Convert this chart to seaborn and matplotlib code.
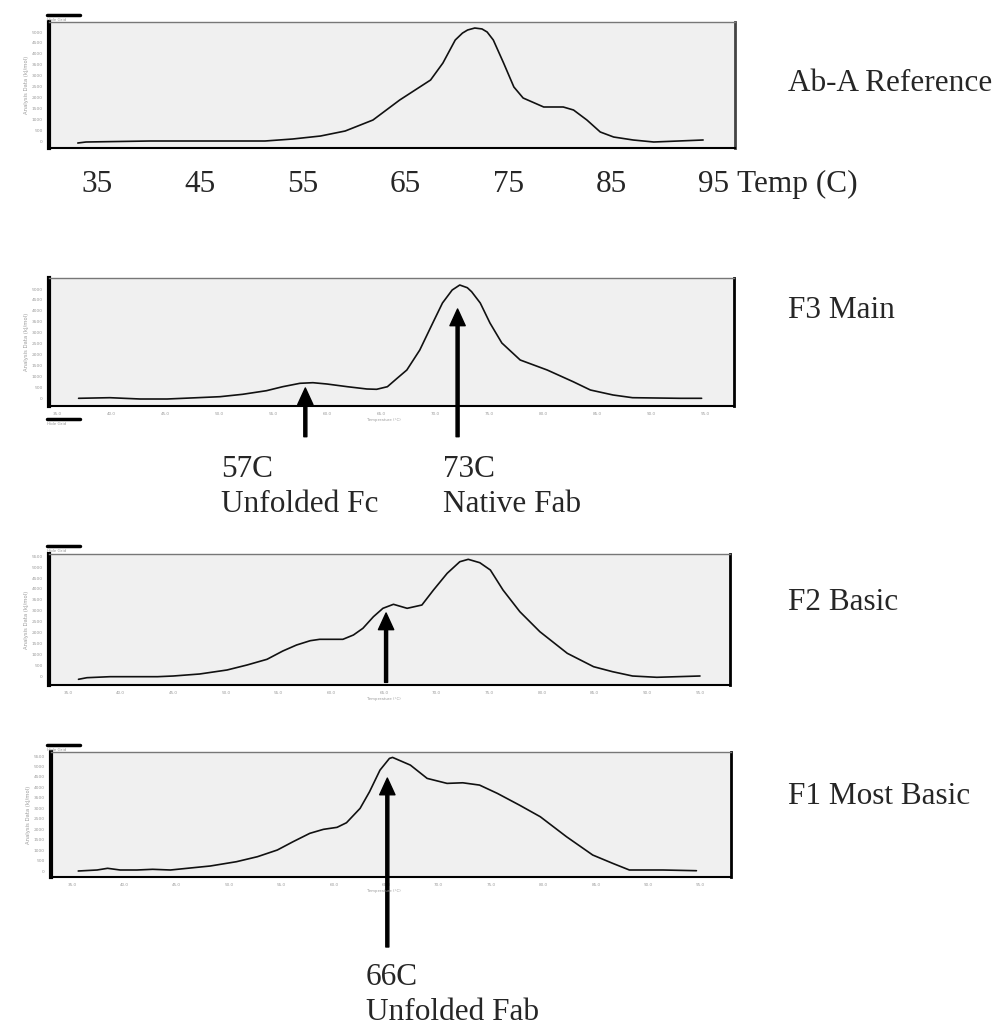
import numpy as np
import pandas as pd
import matplotlib.pyplot as plt
import seaborn as sns
from matplotlib.ticker import MultipleLocator

# Ab-A reference curve (temp C, signal)
ref_temp = [34.1, 34.9, 41.1, 52.3, 55.0, 57.7, 60.1, 62.8, 65.4, 68.4, 69.6, 70.8,
            71.5, 72.0, 72.7, 73.4, 73.9, 74.5, 75.5, 76.5, 77.4, 79.4, 81.3, 82.3,
            83.6, 84.9, 86.2, 88.1, 90.1, 94.9]
ref_val = [-92, -46, 0, 0, 92, 229, 459, 963, 1881, 2798, 3578, 4633,
           4950, 5092, 5183, 5140, 5000, 4633, 3578, 2477, 1972, 1560, 1560, 1422,
           963, 413, 183, 46, -46, 46]

# F3 main
f3_temp = [37.0, 39.9, 42.7, 45.2, 48.0, 50.1, 52.2, 54.4, 55.9, 57.5, 58.7, 60.0,
           61.9, 63.7, 64.6, 65.6, 66.5, 67.4, 68.6, 69.8, 70.7, 71.6, 72.3, 73.0,
           73.4, 74.2, 75.1, 76.2, 77.9, 80.4, 82.8, 84.4, 86.5, 88.3, 92.7, 94.7]
f3_val = [-14, 14, -46, -46, 14, 60, 170, 335, 518, 674, 702, 642,
          518, 413, 399, 518, 904, 1284, 2202, 3440, 4358, 4954, 5183, 5060,
          4876, 4358, 3440, 2523, 1743, 1284, 748, 367, 138, 14, -14, -14]

# F2 basic
f2_temp = [36.0, 36.8, 39.0, 41.2, 43.5, 45.0, 47.5, 50.1, 52.0, 53.9, 55.4, 56.7,
           58.0, 58.9, 60.2, 61.1, 62.1, 63.0, 64.0, 64.9, 65.9, 67.2, 68.6, 69.7,
           71.0, 72.2, 73.0, 74.1, 75.1, 76.3, 77.9, 79.8, 82.4, 84.9, 86.7, 88.6,
           90.9, 95.0]
f2_val = [-105, -32, 14, 14, 14, 45, 136, 318, 545, 805, 1182, 1454,
          1650, 1713, 1713, 1713, 1909, 2213, 2741, 3122, 3304, 3122, 3272, 3954,
          4713, 5240, 5349, 5195, 4863, 3954, 2968, 2059, 1077, 468, 241, 45,
          -14, 45]

# F1 most basic
f1_temp = [35.6, 37.4, 38.4, 39.6, 41.2, 42.7, 44.4, 46.0, 48.2, 50.7, 52.7, 54.6,
           56.1, 57.7, 59.0, 60.3, 61.2, 62.5, 63.4, 64.4, 65.3, 65.6, 67.3, 68.9,
           70.8, 72.3, 73.9, 75.6, 77.7, 79.7, 82.2, 84.7, 86.6, 88.2, 91.4, 94.6]
f1_val = [0, 48, 129, 48, 48, 81, 48, 129, 239, 445, 684, 1004,
          1401, 1802, 1993, 2089, 2309, 2997, 3791, 4828, 5387, 5435, 5067, 4431,
          4192, 4221, 4111, 3714, 3155, 2596, 1640, 765, 368, 48, 48, 14]

panel_names = ['Ab-A Reference', 'F3 Main', 'F2 Basic', 'F1 Most Basic']
temp_ticks = [35, 45, 55, 65, 75, 85, 95]

# arrows: (panel index, tip temp, tip value, tail in axes fraction)
arrow_panel = [1, 1, 2, 3]
arrow_temp = [58.0, 72.1, 65.2, 65.1]
arrow_val = [459, 4082, 2909, 4445]
arrow_tail = [-0.24, -0.24, 0.02, -0.56]

notes = [('57C', 'Unfolded Fc'), ('73C', 'Native Fab'), ('66C', 'Unfolded Fab')]

sns.set_style("white")
plt.rcParams['font.family'] = ['Liberation Serif', 'DejaVu Serif']

W, H = 1003, 1025
fig = plt.figure(figsize=(W / 100, H / 100), dpi=100)


def fx(x):
    return x / W


def fy(y):
    return 1 - y / H


# pixel boxes (left, right, top, bottom), axis limits
boxes = [(49, 735, 22, 148), (49, 734, 278, 406), (49, 730, 554, 685), (51, 731, 752, 877)]
xlims = [(31.3, 98.0), (34.26, 97.7), (33.2, 97.85), (33.0, 97.9)]
ylims = [(-321, 5459), (-367, 5505), (-364, 5591), (-287, 5694)]
ymaxes = [5000, 5000, 5500, 5500]
curves = [(ref_temp, ref_val), (f3_temp, f3_val), (f2_temp, f2_val), (f1_temp, f1_val)]
label_base = [91, 318, 610, 804]
bar_y = [15, 419, 546, 745]
tiny = dict(family='DejaVu Sans', color='#9a9a9a')

axes = []
for i in range(4):
    l, r, t, b = boxes[i]
    ax = fig.add_axes([fx(l), fy(b), (r - l) / W, (b - t) / H])
    ax.set_facecolor('#f0f0f0')
    df = pd.DataFrame({'temp': curves[i][0], 'val': curves[i][1]})
    sns.lineplot(data=df, x='temp', y='val', ax=ax, color='#111111', lw=1.2,
                 sort=False, estimator=None)
    ax.set_xlim(xlims[i])
    ax.set_ylim(ylims[i])

    ax.xaxis.set_minor_locator(MultipleLocator(1))
    ax.yaxis.set_minor_locator(MultipleLocator(100))
    ax.set_yticks(np.arange(0, ymaxes[i] + 1, 500))
    ax.set_yticklabels([str(v) for v in range(0, ymaxes[i] + 1, 500)], fontsize=3.2, **tiny)
    ax.tick_params(axis='x', which='major', direction='inout', length=6, width=2, color='black')
    ax.tick_params(axis='x', which='minor', direction='inout', length=2, width=1.5, color='black')
    ax.tick_params(axis='y', which='major', direction='inout', length=5, width=1, color='black', pad=2)
    ax.tick_params(axis='y', which='minor', direction='inout', length=3, width=0.6, color='black')
    xt = np.arange(35, 96, 5)
    ax.set_xticks(xt)
    if i == 0:
        ax.set_xticklabels([])
    else:
        ax.set_xticklabels([f'{v:.1f}' for v in xt], fontsize=3.0, **tiny)
        ax.tick_params(axis='x', pad=1)
    ax.set_xlabel('')
    ax.set_ylabel('Analysis Data (kJ/mol)', fontsize=3.8, labelpad=2, **tiny)

    ax.spines['left'].set_linewidth(3)
    ax.spines['left'].set_color('black')
    ax.spines['bottom'].set_linewidth(1.5)
    ax.spines['bottom'].set_color('black')
    ax.spines['top'].set_linewidth(1)
    ax.spines['top'].set_color('#777777')
    ax.spines['right'].set_linewidth(2)
    ax.spines['right'].set_color('#444444' if i == 0 else 'black')

    fig.text(fx(788), fy(label_base[i]), panel_names[i], fontsize=22.5, va='baseline', ha='left')
    fig.add_artist(plt.Line2D([fx(47), fx(80)], [fy(bar_y[i]), fy(bar_y[i])], color='black', lw=2.5))
    fig.text(fx(47), fy(bar_y[i] + 6), 'Hide Grid', fontsize=3, va='baseline', **tiny)
    if i > 0:
        fig.text(fx(367), fy(b + 15), 'Temperature (\u00b0C)', fontsize=2.8, va='baseline', **tiny)
    axes.append(ax)

# big temperature labels under the reference panel (set a little right of the ticks)
ax0 = axes[0]
for t in temp_ticks:
    ax0.annotate(str(t), xy=(t, 0), xycoords=('data', 'figure fraction'),
                 xytext=(t + 0.95, fy(192)), textcoords=('data', 'figure fraction'),
                 fontsize=22.5, ha='center', va='baseline', annotation_clip=False)
fig.text(fx(737), fy(192), 'Temp (C)', fontsize=22.5, va='baseline', ha='left')

# arrows
for p, t, v, tail in zip(arrow_panel, arrow_temp, arrow_val, arrow_tail):
    axes[p].annotate('', xy=(t, v), xycoords='data',
                     xytext=(t, tail), textcoords=('data', 'axes fraction'),
                     annotation_clip=False,
                     arrowprops=dict(facecolor='black', edgecolor='black', width=2.2,
                                     headwidth=11, headlength=12, shrink=0))

# annotation texts
note_pos = [(221, 477, 512), (443, 477, 512), (366, 985, 1020)]
for (a, b2), (x, y1, y2) in zip(notes, note_pos):
    fig.text(fx(x), fy(y1), a, fontsize=22.5, va='baseline', ha='left')
    fig.text(fx(x), fy(y2), b2, fontsize=22.5, va='baseline', ha='left')

fig.savefig('out.png', dpi=100, facecolor='white')
